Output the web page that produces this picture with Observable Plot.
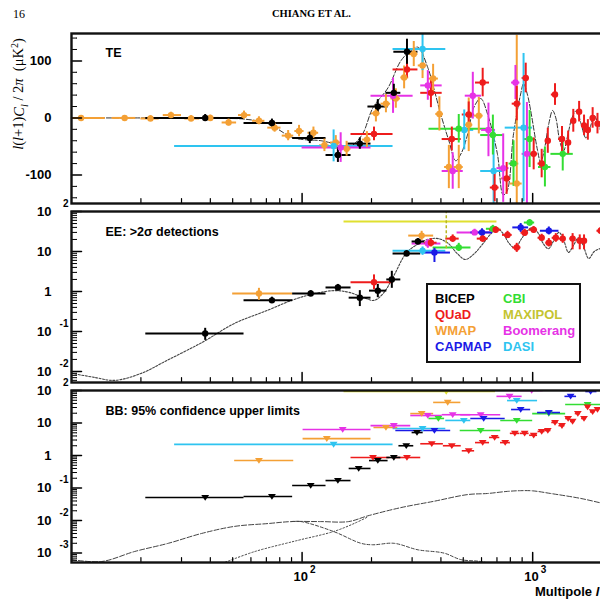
<!DOCTYPE html>
<html><head><meta charset="utf-8">
<script src="https://cdn.jsdelivr.net/npm/d3@7"></script>
<script src="https://cdn.jsdelivr.net/npm/@observablehq/plot@0.6"></script>
<style>
body{margin:0;background:#fff;}
#wrap{position:relative;width:600px;height:600px;overflow:hidden;background:#fff;font-family:"Liberation Sans",Arial,sans-serif;color:#000;}
.abs{position:absolute;white-space:nowrap;color:#000;}
</style></head>
<body><div id="wrap">
<div class="abs" style="left:13px;top:7px;font:12px 'Liberation Serif',serif;color:#000;">16</div>
<div class="abs" style="left:272px;top:8px;font:bold 10.5px 'Liberation Serif',serif;color:#000;">CHIANG ET AL.</div>
<div class="abs" style="left:19px;top:94px;transform:translate(-50%,-50%) rotate(-90deg);font:14.5px 'Liberation Serif',serif;"><i>l</i>(<i>l</i>+1)<i>C<sub style="font-size:10px">l</sub></i> / 2<i>π</i> &nbsp;(μK<sup style="font-size:10px">2</sup>)</div>
<div class="abs" style="left:535px;top:584px;font:bold 13px 'Liberation Sans',Arial,sans-serif;">Multipole <i>l</i></div>
</div>
<script>
// ---------- experiments ----------
const experiments = ["BICEP","QUaD","WMAP","CAPMAP","CBI","MAXIPOL","Boomerang","DASI"];
const expColors   = ["#000000","#ee1c1c","#f4a035","#1a1ae6","#33dd33","#e0e030","#e632e6","#2ec4f0"];
const legendTextColors = ["#000000","#ee1c1c","#f4a035","#1a1ae6","#33dd33","#c4c430","#e632e6","#2ec4f0"];

// ---------- TE data: [l, lmin, lmax, value, err] ----------
const teBICEP = [[38,21,56,0,6],[74,56,91,-9,7],[108,91,127,-35,10],[143,127,163,-65,13],[178,158,199,-45,10],[213,193,236,20,12],[250,231,268,44,15],[285,250,318,116,22]];
const teQUaD = [[205,163,248,-28,12],[285,248,318,85,15],[362,327,405,44,26],[446,405,490,-37,21],[528,495,560,6,22],[607,565,650,62,25],[684,655,715,-122,25],[771,735,805,-106,28],[853,815,890,25,30],[933,900,965,70,26],[1010,975,1050,-63,28],[1094,1055,1130,-80,25],[1163,1135,1200,-40,22],[1250,1205,1290,41,19],[1340,1295,1380,-37,22],[1425,1385,1465,-43,20],[1500,1470,1545,-5,20],[1590,1550,1630,11,18],[1670,1635,1710,-13,18],[1735,1710,1780,-21,18],[1820,1780,1865,0,18],[1910,1870,1960,-10,18]];
const teWMAP = [[11,10,14,0,3],[17,15,19,0,4],[22,20,24,-1,5],[27,25,30,5,5],[33,31,36,-1,5],[40,37,44,0,5],[48,45,52,-8,6],[56,53,60,5,7],[65,61,69,-5,7],[76,71,81,-17,8],[87,82,92,-31,9],[97,93,102,-23,10],[112,106,118,-26,10],[125,119,131,-48,11],[140,133,147,-43,12],[156,149,163,-54,13],[191,183,199,-38,14],[209,200,218,8,15],[231,220,242,25,16],[255,243,267,34,17],[277,268,290,71,20],[305,292,318,112,22],[333,319,347,92,23],[370,350,390,69,25],[394,380,410,7,30],[433,415,455,-86,38],[478,458,500,-86,38],[528,505,550,-12,47],[584,560,610,4,32],[853,800,900,-115,260]];
const teBoomerang = [[147,100,199,-52,26],[248,199,303,39,31],[351,327,405,57,26],[450,405,500,-93,32],[550,510,600,39,41],[643,600,690,-21,47],[745,700,790,-88,60],[842,810,880,62,30],[944,900,990,-63,90]];
const teDASI = [[137,28,248,-49,28],[333,248,420,121,38],[505,464,555,-21,35],[677,595,745,-93,70],[913,760,1000,-17,130]];
const teCBI = [[478,355,658,-19,25],[672,595,745,-30,35],[826,790,870,-80,40],[970,920,1030,-37,50],[1130,1060,1200,-86,35],[1350,1200,1500,-63,30]];
const teTheory = [[10,0],[20,0],[30,0],[45,-1],[56,-2],[71,-10],[92,-35],[121,-40],[137,-45],[155,-50],[165,-48],[183,-28],[203,18],[236,53],[268,100],[296,118],[318,124],[351,88],[372,53],[399,7],[433,-40],[464,-75],[490,-62],[523,-28],[555,18],[595,34],[637,7],[703,-63],[745,-135],[775,-128],[826,-28],[887,42],[913,60],[950,40],[980,13],[1050,-57],[1083,-78],[1130,-50],[1175,-10],[1220,13],[1260,0],[1310,-40],[1360,-58],[1420,-30],[1480,0],[1550,13],[1620,-10],[1700,-35],[1780,-15],[1850,4],[1920,-10],[1970,-22]];

// ---------- EE data: [l, lmin, lmax, value, low, high] ----------
const eeBICEP = [[38,21,56,0.089,0.06,0.12],[74,56,91,0.6,0.5,0.72],[109,91,127,0.89,0.75,1.05],[143,127,163,1.26,1.05,1.5],[178,160,199,0.7,0.42,1.05],[213,196,233,1.05,0.7,1.5],[245,233,268,2.0,1.2,3.2],[284,248,327,8.9,7.5,10.5],[318,300,340,17.8,15,21]];
const eeQUaD = [[205,163,248,1.7,1.1,2.6],[362,340,385,16.6,13,21],[450,420,480,21,17,26],[607,575,640,21,17,26],[691,650,730,35,29,42],[778,740,815,26,21,32],[853,820,890,12.6,9.5,16],[923,890,960,29.5,24,36],[1010,965,1050,35,29,42],[1094,1055,1130,22,18,27],[1175,1140,1210,16.6,13,21],[1260,1215,1300,22,17,28],[1350,1305,1390,21,16,27],[1490,1450,1530,21,11,28],[1600,1560,1640,18.6,11,26],[1670,1645,1700,18.6,11,26],[1970,1900,2050,33,27,40]];
const eeWMAP = [[65,50,91,0.89,0.6,1.2],[330,290,372,25,19,32]];
const eeCAPMAP = [[375,340,440,9.4,5.3,12],[603,540,670,30,24,37],[887,820,960,40,30,50],[1175,1080,1300,33,26,41]];
const eeCBI = [[478,370,540,12.6,10,16],[672,630,720,37,30,45],[970,920,1020,53,43,63]];
const eeMAXIPOL = [[422,152,700,56,11.7,100]];
const eeBoomerang = [[351,300,400,15.8,12,20],[560,470,660,30,25,36]];
const eeDASI = [[333,248,420,10.5,8,13]];
const eeTheory = [[10,0.009],[12.6,0.0071],[15.4,0.006],[20,0.0089],[26,0.019],[37,0.054],[51,0.16],[71,0.34],[90,0.6],[110,0.85],[137,1.05],[160,0.95],[185,0.7],[205,0.6],[225,0.9],[250,2.5],[282,8.9],[310,14],[350,20],[390,21],[430,16],[470,9],[510,6.3],[560,9],[610,16],[660,28],[703,37],[745,28],[790,16],[840,12],[890,20],[950,33],[1000,40],[1060,28],[1110,16],[1170,11.7],[1230,18],[1300,30],[1360,20],[1430,9.5],[1500,14],[1580,22],[1650,15],[1750,6.7],[1850,10],[1970,12],[2090,13]];

// ---------- BB data (95% upper limits): [l, lmin, lmax, limit] ----------
const bbBICEP = [[38,21,56,0.051],[74,56,91,0.055],[109,91,127,0.12],[143,127,163,0.17],[176,160,199,0.4],[213,196,236,0.7],[250,233,268,0.87],[283,263,305,2.0],[315,300,335,5.1]];
const bbQUaD = [[203,163,240,0.87],[285,245,327,0.87],[365,327,410,2.3],[446,410,490,2.0],[528,495,560,1.4],[607,565,650,2.5],[684,650,720,3.6],[760,725,800,2.5],[837,800,880,4.8],[923,885,965,4.8],[1010,970,1050,4.2],[1094,1055,1130,5.5],[1163,1130,1200,5.9],[1250,1210,1290,10.4],[1340,1300,1380,8.3],[1425,1390,1460,13.8],[1490,1460,1525,11.2],[1570,1530,1610,19.5],[1670,1630,1710,13.8],[1730,1700,1770,31],[1820,1780,1860,22],[1910,1870,1950,26]];
const bbWMAP = [[65,51,92,0.7],[128,101,199,3.3],[231,205,260,7.3],[330,296,372,19.5],[428,372,488,43]];
const bbCAPMAP = [[375,255,441,5.9],[613,539,760,13.8],[887,810,980,26],[1175,1050,1320,21],[1461,1380,1550,66],[1784,1700,1900,93]];
const bbCBI = [[390,355,415,13.8],[595,485,727,5.9],[853,727,1000,12],[1175,1000,1390,19.5],[1730,1390,1970,37]];
const bbMAXIPOL = [[422,152,690,93]];
const bbBoomerang = [[150,101,199,6.3],[250,199,296,8.3],[351,296,405,17],[450,405,539,18],[595,488,727,18],[794,700,900,66],[990,887,1110,100]];
const bbDASI = [[137,28,248,2.2],[333,248,420,6.8],[503,420,539,12],[853,778,1050,49]];
const bbTotal = [[10,0.00063],[13.5,0.00055],[18.8,0.00112],[26.3,0.002],[36.6,0.004],[50.8,0.0066],[71.3,0.0081],[89.6,0.0093],[120,0.0093],[159,0.0093],[193,0.014],[268,0.025],[372,0.039],[523,0.063],[637,0.068],[778,0.079],[887,0.083],[1000,0.082],[1197,0.068],[1614,0.048],[1970,0.035],[2090,0.032]];
const bbTensor = [[89.6,0.0093],[99,0.0093],[137,0.0046],[180,0.002],[203,0.0018],[250,0.002],[318,0.00126],[412,0.001],[488,0.00063],[595,0.00055],[727,0.0004]];
const bbLensing = [[45,0.00048],[62,0.0011],[90,0.0022],[99,0.0026],[137,0.0046],[168,0.0081],[193,0.013]];

// ---------- axis ticks & labels ----------
const xMajor = [100, 1000];
const xMinor = [20,30,40,50,60,70,80,90,200,300,400,500,600,700,800,900,2000];
const xLabels = [{v:100,b:"10",e:"2"},{v:1000,b:"10",e:"3"}];
const teMajor = [-100, 0, 100];
const teMinor = [-140,-120,-80,-60,-40,-20,20,40,60,80,120,140];
const teLabels = [{v:100,b:"100"},{v:0,b:"0"},{v:-100,b:"-100"}];
const eeLabels = [{v:100,b:"10",e:"2"},{v:10,b:"10",e:""},{v:1,b:"1",e:""},{v:0.1,b:"10",e:"-1"},{v:0.01,b:"10",e:"-2"}];
const bbLabels = [{v:100,b:"10",e:"2"},{v:10,b:"10",e:""},{v:1,b:"1",e:""},{v:0.1,b:"10",e:"-1"},{v:0.01,b:"10",e:"-2"},{v:0.001,b:"10",e:"-3"}];

// ---------- helpers ----------
const FONT = "Liberation Sans, Arial, sans-serif";
const STYLE = {fontFamily: FONT, fontSize: "12px", background: "transparent", overflow: "visible", maxWidth: "none", color: "#000"};
const colorScale = {domain: experiments, range: expColors};

function rowsSym(sets){ return Object.entries(sets).flatMap(([exp, arr]) => arr.map(([l,lmin,lmax,v,e]) => ({exp,l,lmin,lmax,v,lo:v-e,hi:v+e}))); }
function rowsAsym(sets){ return Object.entries(sets).flatMap(([exp, arr]) => arr.map(([l,lmin,lmax,v,lo,hi]) => ({exp,l,lmin,lmax,v,lo,hi}))); }
function rowsLim(sets){ return Object.entries(sets).flatMap(([exp, arr]) => arr.map(([l,lmin,lmax,v]) => ({exp,l,lmin,lmax,v}))); }

function logMinor(lo, hi){ return d3.range(-4,3).flatMap(k => d3.range(2,10).map(m => m*Math.pow(10,k))).filter(v => v>lo && v<hi); }

function tickVec(data, chan, frameAnchor, rotate, length, sw){
  const o = {frameAnchor, rotate, length, anchor:"start", r:0, stroke:"#000", strokeWidth:sw};
  o[chan] = d => d;
  return Plot.vector(data, o);
}
function xTicks(){ return [tickVec(xMajor,"x","bottom",0,10,1.5), tickVec(xMinor,"x","bottom",0,5,1.2)]; }
function yTicks(major, minor){ return [tickVec(major,"y","left",90,10,1.5), tickVec(minor,"y","left",90,5,1)]; }
function yLabelMarks(labels){
  return [
    Plot.text(labels, {y:"v", text:"b", frameAnchor:"left", dx:-20, textAnchor:"end", fontWeight:"bold", fontSize:13, fontFamily:FONT}),
    Plot.text(labels.filter(d=>d.e), {y:"v", text:"e", frameAnchor:"left", dx:-3, dy:-8, textAnchor:"end", fontWeight:"bold", fontSize:10, fontFamily:FONT})
  ];
}
function panelLabel(txt, dy){ return Plot.text([txt], {text:d=>d, frameAnchor:"top-left", dx:34, dy, textAnchor:"start", fontWeight:"bold", fontSize:12.5, fontFamily:FONT}); }
function errMarks(rows, sw, dotR){
  return [
    Plot.ruleY(rows, {y:"v", x1:"lmin", x2:"lmax", stroke:"exp", strokeWidth:sw, clip:true}),
    Plot.ruleX(rows.filter(d=>d.exp!=="MAXIPOL"), {x:"l", y1:"lo", y2:"hi", stroke:"exp", strokeWidth:sw, clip:true}),
    Plot.ruleX(rows.filter(d=>d.exp==="MAXIPOL"), {x:"l", y1:"lo", y2:"hi", stroke:"#b8b820", strokeWidth:1.5, strokeDasharray:"3,2", clip:true}),
    Plot.dot(rows, {x:"l", y:"v", r:dotR, fill: d => d.exp==="MAXIPOL" ? "#9a9a2a" : d.exp, stroke:"none", clip:true})
  ];
}
const triDown = {draw(ctx, size){ const r = Math.sqrt(size/Math.PI); ctx.moveTo(-r*1.15,-r*0.75); ctx.lineTo(r*1.15,-r*0.75); ctx.lineTo(0,r*0.95); ctx.closePath(); }};

function panel(opts){
  return Plot.plot({
    width: 606, height: opts.height, marginLeft: 71, marginRight: 0, marginTop: opts.marginTop, marginBottom: opts.marginBottom,
    x: {type:"log", domain:[10, 2090], axis:null},
    y: Object.assign({axis:null}, opts.y),
    color: colorScale, style: STYLE, marks: opts.marks
  });
}
function mount(node, top){ node.style.position="absolute"; node.style.left="0px"; node.style.top=top+"px"; document.getElementById("wrap").appendChild(node); }

// ---------- TE panel ----------
const teRows = rowsSym({WMAP:teWMAP, DASI:teDASI, CBI:teCBI, Boomerang:teBoomerang, QUaD:teQUaD, BICEP:teBICEP});
mount(panel({height:207, marginTop:33, marginBottom:4, y:{domain:[-150,148]}, marks:[
  Plot.line(teTheory, {x:d=>d[0], y:d=>d[1], stroke:"#333", strokeWidth:1, strokeDasharray:"5,2", curve:"catmull-rom", clip:true}),
  errMarks(teRows, 2, 3.2),
  xTicks(), yTicks(teMajor, teMinor),
  Plot.text(teLabels, {y:"v", text:"b", frameAnchor:"left", dx:-20, textAnchor:"end", fontWeight:"bold", fontSize:13, fontFamily:FONT}),
  panelLabel("TE", 15),
  Plot.frame({stroke:"#111", strokeWidth:2.4})
]}), 0);

// ---------- EE panel ----------
const eeRows = rowsAsym({MAXIPOL:eeMAXIPOL, WMAP:eeWMAP, DASI:eeDASI, Boomerang:eeBoomerang, CBI:eeCBI, CAPMAP:eeCAPMAP, QUaD:eeQUaD, BICEP:eeBICEP});
mount(panel({height:179, marginTop:4, marginBottom:4, y:{type:"log", domain:[0.0053,100]}, marks:[
  Plot.line(eeTheory, {x:d=>d[0], y:d=>d[1], stroke:"#444", strokeWidth:1.1, strokeDasharray:"2,1.5", curve:"catmull-rom", clip:true}),
  errMarks(eeRows, 2, 3.2),
  xTicks(), yTicks([0.01,0.1,1,10,100], logMinor(0.0053,100)),
  yLabelMarks(eeLabels),
  panelLabel("EE: >2σ detections", 16),
  Plot.frame({stroke:"#111", strokeWidth:2.4})
]}), 207);

// ---------- BB panel ----------
const bbRows = rowsLim({MAXIPOL:bbMAXIPOL, DASI:bbDASI, WMAP:bbWMAP, Boomerang:bbBoomerang, CBI:bbCBI, CAPMAP:bbCAPMAP, QUaD:bbQUaD, BICEP:bbBICEP});
mount(panel({height:214, marginTop:4, marginBottom:38, y:{type:"log", domain:[0.000513,100]}, marks:[
  Plot.line(bbTotal, {x:d=>d[0], y:d=>d[1], stroke:"#444", strokeWidth:1, strokeDasharray:"5,2", curve:"catmull-rom", clip:true}),
  Plot.line(bbTensor, {x:d=>d[0], y:d=>d[1], stroke:"#444", strokeWidth:1, strokeDasharray:"3,2", curve:"catmull-rom", clip:true}),
  Plot.line(bbLensing, {x:d=>d[0], y:d=>d[1], stroke:"#444", strokeWidth:1, strokeDasharray:"1.5,2", curve:"catmull-rom", clip:true}),
  Plot.ruleY(bbRows, {y:"v", x1:"lmin", x2:"lmax", stroke:"exp", strokeWidth:1.6, clip:true}),
  Plot.dot(bbRows, {x:"l", y:"v", r:3.4, symbol:triDown, fill:"exp", stroke:"none", clip:true}),
  xTicks(), yTicks([0.001,0.01,0.1,1,10,100], logMinor(0.000513,100)),
  yLabelMarks(bbLabels),
  Plot.text(xLabels, {x:"v", text:"b", frameAnchor:"bottom", dy:18, dx:6, textAnchor:"end", fontWeight:"bold", fontSize:13, fontFamily:FONT}),
  Plot.text(xLabels, {x:"v", text:"e", frameAnchor:"bottom", dy:10, dx:8, textAnchor:"start", fontWeight:"bold", fontSize:10, fontFamily:FONT}),
  panelLabel("BB: 95% confidence upper limits", 16),
  Plot.frame({stroke:"#111", strokeWidth:2.4})
]}), 386);

// ---------- legend ----------
const legend = document.createElement("div");
legend.className = "abs";
Object.assign(legend.style, {left:"426px", top:"283px", width:"155px", height:"80px", border:"2px solid #111", background:"#fff", boxSizing:"border-box"});
experiments.forEach((name, i) => {
  const e = document.createElement("div");
  e.className = "abs";
  e.textContent = name;
  Object.assign(e.style, {left:(i<4?7:75)+"px", top:(6+16*(i%4))+"px", lineHeight:"16px", font:"bold 13px "+FONT, color:legendTextColors[i]});
  legend.appendChild(e);
});
document.getElementById("wrap").appendChild(legend);
</script>
</body></html>
